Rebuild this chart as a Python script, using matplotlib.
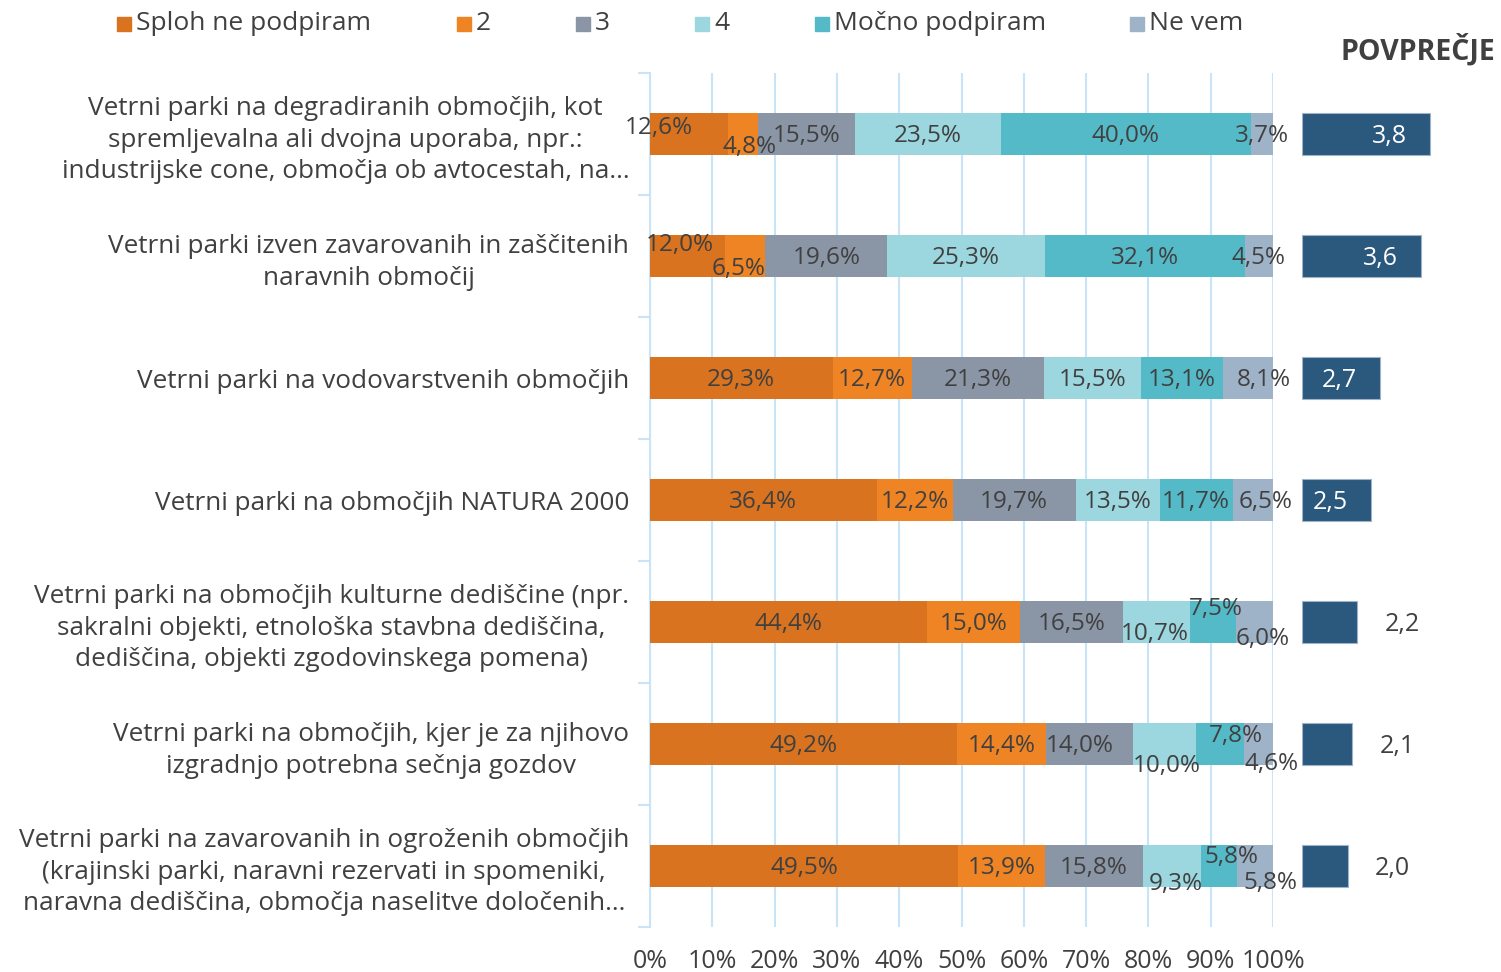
import matplotlib
matplotlib.use('Agg')
import matplotlib.pyplot as plt
from matplotlib.patches import Rectangle
import numpy as np

plt.rcParams['font.family'] = ['Open Sans', 'DejaVu Sans']

# Podatki
kategorije = [
    "Vetrni parki na degradiranih območjih, kot\nspremljevalna ali dvojna uporaba, npr.:\nindustrijske cone, območja ob avtocestah, na…",
    "Vetrni parki izven zavarovanih in zaščitenih\nnaravnih območij",
    "Vetrni parki na vodovarstvenih območjih",
    "Vetrni parki na območjih NATURA 2000",
    "Vetrni parki na območjih kulturne dediščine (npr.\nsakralni objekti, etnološka stavbna dediščina,\ndediščina, objekti zgodovinskega pomena)",
    "Vetrni parki na območjih, kjer je za njihovo\nizgradnjo potrebna sečnja gozdov",
    "Vetrni parki na zavarovanih in ogroženih območjih\n(krajinski parki, naravni rezervati in spomeniki,\nnaravna dediščina, območja naselitve določenih…",
]
odgovori = ["Sploh ne podpiram", "2", "3", "4", "Močno podpiram", "Ne vem"]
sploh_ne = [12.6, 12.0, 29.3, 36.4, 44.4, 49.2, 49.5]
ocena_2 = [4.8, 6.5, 12.7, 12.2, 15.0, 14.4, 13.9]
ocena_3 = [15.5, 19.6, 21.3, 19.7, 16.5, 14.0, 15.8]
ocena_4 = [23.5, 25.3, 15.5, 13.5, 10.7, 10.0, 9.3]
mocno = [40.0, 32.1, 13.1, 11.7, 7.5, 7.8, 5.8]
ne_vem = [3.7, 4.5, 8.1, 6.5, 6.0, 4.6, 5.8]
povprecje = [3.8, 3.6, 2.7, 2.5, 2.2, 2.1, 2.0]

serije = [sploh_ne, ocena_2, ocena_3, ocena_4, mocno, ne_vem]
barve = ['#d9731f', '#ee8424', '#8a95a5', '#9cd6de', '#55bac8', '#9fb3c8']
temna = '#404040'
mreza = '#c9e3f7'

# zamiki oznak (px), kjer se oznake v Excelu prekrivajo
zamiki = {
    (0, 0): (-30, 8), (0, 1): (6, -11),
    (1, 0): (-8, 13), (1, 1): (-6, -11),
    (2, 5): (16, 0), (3, 5): (13, 0),
    (4, 3): (-1, -10), (4, 4): (3, 15), (4, 5): (8, -15),
    (5, 2): (-10, 0), (5, 3): (2, -20), (5, 4): (16, 10), (5, 5): (13, -18),
    (6, 3): (3, -16), (6, 4): (12, 11), (6, 5): (15, -15),
}

W, H = 1501, 972
fig = plt.figure(figsize=(W / 100, H / 100), dpi=100)

ax = fig.add_axes([650 / W, 1 - 927 / H, 623 / W, 854 / H])
y = np.arange(len(kategorije))
levo = np.zeros(len(kategorije))
for i, (s, b) in enumerate(zip(serije, barve)):
    s = np.array(s)
    ax.barh(y, s, left=levo, height=0.35, color=b, label=odgovori[i], zorder=3)
    for r in range(len(y)):
        dx, dy = zamiki.get((r, i), (0, 0))
        ax.annotate(f"{s[r]:.1f}%".replace('.', ','), (levo[r] + s[r] / 2, y[r]),
                    xytext=(dx, dy - 2), textcoords='offset pixels',
                    ha='center', va='center', fontsize=17.5, color=temna, zorder=5)
    levo += s

ax.set_xlim(0, 100)
ax.set_ylim(len(y) - 0.5, -0.5)
ax.set_xticks(np.arange(0, 101, 10))
ax.set_xticklabels([f"{v}%" for v in range(0, 101, 10)], fontsize=18, color=temna)
ax.tick_params(axis='x', length=0, pad=16)
ax.grid(axis='x', color=mreza, linewidth=1.5, zorder=0)
ax.set_yticks(y)
ax.set_yticklabels(kategorije, fontsize=18.8, color=temna, multialignment='center',
                   linespacing=1.35)
ax.set_yticks(np.arange(-0.5, len(y), 1), minor=True)
ax.tick_params(axis='y', which='major', length=0, pad=15)
ax.tick_params(axis='y', which='minor', length=9, color=mreza, width=1.5)
for sp in ['top', 'right', 'bottom']:
    ax.spines[sp].set_visible(False)
ax.spines['left'].set_color(mreza)
ax.spines['left'].set_linewidth(1.5)

# povprečje
ax2 = fig.add_axes([1302 / W, 1 - 927 / H, 199 / W, 854 / H])
ax2.barh(y, np.array(povprecje) - 1, left=1, height=0.35, color='#2b587d',
         edgecolor='#9fb3c8', linewidth=0.8)
for r, v in enumerate(povprecje):
    t = f"{v:.1f}".replace('.', ',')
    if v >= 2.5:
        ax2.text(v - 0.5, r + 0.02, t, ha='right', va='center', fontsize=18, color='white')
    else:
        ax2.text(v + 0.6, r + 0.02, t, ha='left', va='center', fontsize=18, color=temna)
ax2.set_xlim(1, 1 + 199 / 45.7)
ax2.set_ylim(len(y) - 0.5, -0.5)
ax2.axis('off')

fig.text(1495 / W, 1 - 50 / H, "POVPREČJE", ha='right', va='center',
         fontsize=20.5, fontweight='bold', color=temna)

# legenda
leg_x = [117, 457, 576, 695, 815, 1130]
for lx, ime, b in zip(leg_x, odgovori, barve):
    fig.patches.append(Rectangle((lx / W, 1 - 31 / H), 14 / W, 14 / H,
                                 transform=fig.transFigure, color=b))
    fig.text((lx + 19) / W, 1 - 24 / H, ime, ha='left', va='center',
             fontsize=19, color=temna)

fig.savefig('out.png', dpi=100)
